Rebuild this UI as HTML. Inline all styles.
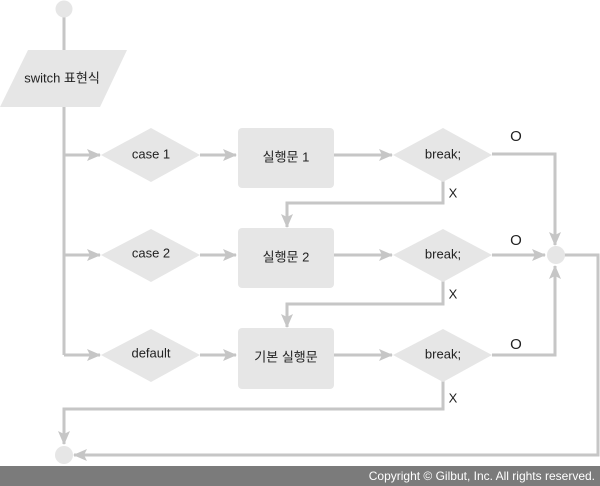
<!DOCTYPE html>
<html><head><meta charset="utf-8"><style>
html,body{margin:0;padding:0;background:#fff;}
svg{display:block}
text{font-family:"Liberation Sans","Noto Sans CJK KR",sans-serif;font-size:13px;fill:#222;text-anchor:middle;dominant-baseline:middle}
</style></head><body>
<svg width="600" height="486" viewBox="0 0 600 486" xmlns="http://www.w3.org/2000/svg">
<defs>
<marker id="b" markerWidth="14" markerHeight="12" refX="13" refY="6" orient="auto" markerUnits="userSpaceOnUse"><path d="M0,0 L14,6 L0,12 L3,6 Z" fill="#c6c6c6"/></marker>
</defs>
<g stroke="#c6c6c6" stroke-width="3" fill="none">
<line x1="64" y1="10" x2="64" y2="355"/>
<line x1="64" y1="155" x2="100" y2="155" marker-end="url(#b)"/>
<line x1="64" y1="255" x2="100" y2="255" marker-end="url(#b)"/>
<line x1="64" y1="355" x2="100" y2="355" marker-end="url(#b)"/>
<line x1="200" y1="155" x2="236" y2="155" marker-end="url(#b)"/>
<line x1="200" y1="255" x2="236" y2="255" marker-end="url(#b)"/>
<line x1="200" y1="355" x2="236" y2="355" marker-end="url(#b)"/>
<line x1="334" y1="155" x2="392" y2="155" marker-end="url(#b)"/>
<line x1="334" y1="255" x2="392" y2="255" marker-end="url(#b)"/>
<line x1="334" y1="355" x2="392" y2="355" marker-end="url(#b)"/>
<polyline points="492,154 555,154 555,245" marker-end="url(#b)"/>
<line x1="492" y1="255" x2="545" y2="255" marker-end="url(#b)"/>
<polyline points="492,355 555,355 555,266" marker-end="url(#b)"/>
<polyline points="443,180 443,203 287,203 287,227" marker-end="url(#b)"/>
<polyline points="443,280 443,304 287,304 287,327" marker-end="url(#b)"/>
<polyline points="443,380 443,409 64,409 64,444" marker-end="url(#b)"/>
<polyline points="556,255 598,255 598,455 74,455" marker-end="url(#b)"/>
</g>
<g fill="#e6e6e6">
<circle cx="64" cy="9" r="8.5"/>
<circle cx="556" cy="255" r="9"/>
<circle cx="64" cy="455" r="9"/>
<polygon points="28,50 127,50 100,107 0,107"/>
<polygon points="101,155 151,128 200,155 151,182"/>
<polygon points="101,255 151,229 200,255 151,282"/>
<polygon points="101,355 151,329 200,355 151,382"/>
<rect x="238" y="128" width="96" height="60" rx="4"/>
<rect x="238" y="228" width="96" height="60" rx="4"/>
<rect x="238" y="328" width="96" height="61" rx="4"/>
<polygon points="393,155 443,128 492,155 443,182"/>
<polygon points="393,255 443,229 492,255 443,282"/>
<polygon points="393,355 443,329 492,355 443,382"/>
</g>
<text x="62" y="79">switch 표현식</text>
<text x="151" y="155">case 1</text>
<text x="151" y="254">case 2</text>
<text x="151" y="354">default</text>
<text x="286" y="158">실행문 1</text>
<text x="286" y="258">실행문 2</text>
<text x="286" y="358">기본 실행문</text>
<text x="443" y="155">break;</text>
<text x="443" y="255">break;</text>
<text x="443" y="355">break;</text>
<text x="516" y="137" style="font-size:15px">O</text>
<text x="516" y="241" style="font-size:15px">O</text>
<text x="516" y="345" style="font-size:15px">O</text>
<text x="453" y="194">X</text>
<text x="453" y="295">X</text>
<text x="453" y="399">X</text>
<rect x="0" y="466" width="600" height="20" fill="#7b7b7b"/>
<text x="595" y="477" style="text-anchor:end;fill:#fff;font-size:12px">Copyright © Gilbut, Inc. All rights reserved.</text>
</svg>
</body></html>
